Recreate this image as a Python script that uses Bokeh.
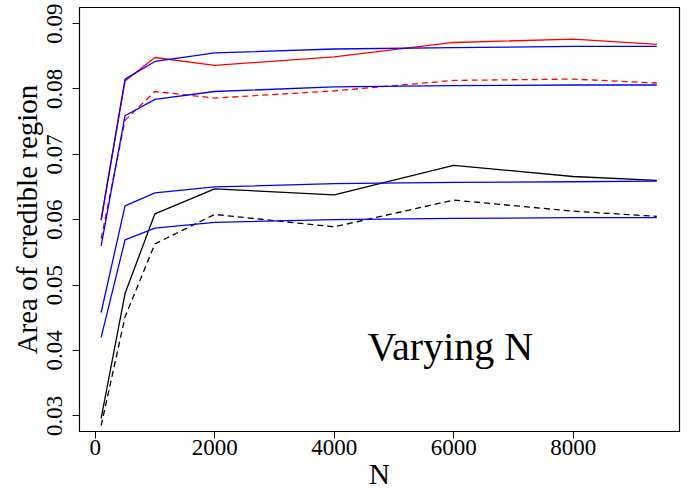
import math
from bokeh.plotting import figure
from bokeh.models import FixedTicker, Label, Range1d
from bokeh.embed import file_html
from bokeh.resources import INLINE

# ---- data ----
N = [100, 500, 1000, 2000, 4000, 6000, 8000, 9400]
red_solid = [0.0599, 0.0812, 0.0848, 0.0836, 0.0849, 0.0871, 0.0876, 0.0868]
red_dashed = [0.0571, 0.0752, 0.0796, 0.0786, 0.0797, 0.0813, 0.0815, 0.0809]
black_solid = [0.0296, 0.0487, 0.0609, 0.0647, 0.0638, 0.0683, 0.0666, 0.0660]
black_dashed = [0.0285, 0.0451, 0.0563, 0.0608, 0.0589, 0.0630, 0.0613, 0.0605]
blue_1 = [0.0600, 0.0815, 0.0842, 0.0855, 0.0861, 0.0863, 0.0865, 0.0865]
blue_2 = [0.0560, 0.0759, 0.0784, 0.0796, 0.0803, 0.0805, 0.0806, 0.0806]
blue_3 = [0.0458, 0.0621, 0.0641, 0.0650, 0.0655, 0.0657, 0.0658, 0.0659]
blue_4 = [0.0420, 0.0569, 0.0587, 0.0596, 0.0600, 0.0602, 0.0603, 0.0603]

x_ticks = [0, 2000, 4000, 6000, 8000]
y_ticks = [0.03, 0.04, 0.05, 0.06, 0.07, 0.08, 0.09]
annotation = "Varying N"

FONT = "Liberation Serif"

p = figure(width=696, height=492, output_backend="svg", toolbar_location=None,
           x_range=Range1d(-262, 9780), y_range=Range1d(0.0276, 0.09245),
           min_border_left=79, min_border_right=17, min_border_top=7, min_border_bottom=61)
p.background_fill_color = "white"
p.border_fill_color = "white"
p.outline_line_color = "black"
p.outline_line_width = 1.2
p.grid.visible = False

for ys, color, dash in [(red_solid, "#ff0000", "solid"), (red_dashed, "#ff0000", "6 4"),
                        (black_solid, "black", "solid"), (black_dashed, "black", "6 4")]:
    p.line(N, ys, line_color=color, line_width=1.3, line_dash=dash)
for ys in [blue_1, blue_2, blue_3, blue_4]:
    p.line(N, ys, line_color="#0000ff", line_width=1.3)

p.xaxis.ticker = FixedTicker(ticks=x_ticks)
p.yaxis.ticker = FixedTicker(ticks=y_ticks)
p.yaxis.formatter.use_scientific = False
for ax in (p.xaxis, p.yaxis):
    ax.major_tick_out = 7
    ax.major_tick_in = 0
    ax.minor_tick_out = 0
    ax.minor_tick_in = 0
    ax.axis_line_color = "black"
    ax.major_tick_line_color = "black"
    ax.major_label_text_font = FONT
    ax.major_label_text_font_size = "23px"
    ax.major_label_text_color = "black"
    ax.axis_label_text_font = FONT
    ax.axis_label_text_font_style = "normal"
    ax.axis_label_text_font_size = "29px"
    ax.axis_label_text_color = "black"

p.yaxis.major_label_orientation = "vertical"
p.yaxis.major_label_standoff = 10
p.yaxis.axis_label_standoff = 2
p.xaxis.major_label_standoff = 1
p.xaxis.axis_label_standoff = 0
p.xaxis.axis_label = "N"
p.yaxis.axis_label = "Area of credible region"

p.add_layout(Label(x=4560, y=0.0406, text=annotation, text_font=FONT,
                   text_font_size="40px", text_color="black",
                   text_align="left", text_baseline="alphabetic"))

open("out.html", "w").write(file_html(p, INLINE))
